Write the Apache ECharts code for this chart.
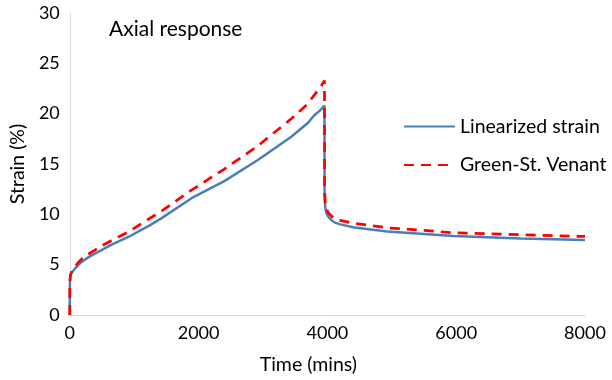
<!DOCTYPE html>
<html>
<head>
<meta charset="utf-8">
<script src="https://cdn.jsdelivr.net/npm/echarts@6/dist/echarts.min.js"></script>
<style>
  html, body { margin: 0; padding: 0; background: #fff; }
  #chart { width: 612px; height: 380px; }
</style>
</head>
<body>
<div id="chart"></div>
<script>
// Time (mins)
const timeMins = [0, 1, 5, 15, 40, 80, 130, 190, 280, 390, 520, 650, 910, 1240, 1420, 1890, 2400, 2920, 3440, 3700, 3790, 3900, 3955, 3956, 3965, 3980, 4010, 4060, 4110, 4200, 4420, 4930, 5500, 5960, 7000, 8000];
// Linearized strain (%)
const linearized = [0, 3.0, 3.6, 4.0, 4.3, 4.6, 4.95, 5.3, 5.7, 6.1, 6.55, 7.0, 7.75, 8.9, 9.6, 11.6, 13.3, 15.4, 17.7, 19.1, 19.8, 20.4, 20.8, 12.0, 10.8, 10.2, 9.8, 9.45, 9.2, 9.0, 8.7, 8.3, 8.05, 7.84, 7.6, 7.45];
// Green-St. Venant strain (%)
const greenStVenant = [0, 3.1, 3.7, 4.1, 4.45, 4.8, 5.2, 5.6, 6.0, 6.45, 6.95, 7.4, 8.25, 9.6, 10.3, 12.4, 14.5, 16.8, 19.5, 21.0, 21.8, 22.7, 23.3, 12.5, 11.3, 10.7, 10.2, 9.85, 9.6, 9.4, 9.1, 8.66, 8.4, 8.17, 7.97, 7.8];

const xTicks = [0, 2000, 4000, 6000, 8000];
const yTicks = [0, 5, 10, 15, 20, 25, 30];

const FONT = 'Lato';
const chart = echarts.init(document.getElementById('chart'), null, { renderer: 'canvas' });
const pairs = (ys) => timeMins.map((t, i) => [t, ys[i]]);

chart.setOption({
  animation: false,
  backgroundColor: '#ffffff',
  textStyle: { fontFamily: FONT },
  title: {
    text: 'Axial response',
    left: 104, top: 14,
    textStyle: { fontFamily: FONT, fontSize: 21, fontWeight: 'normal', color: '#000' }
  },
  legend: {
    orient: 'vertical',
    left: 398, top: 111.5,
    itemWidth: 51, itemHeight: 18, itemGap: 18.6,
    itemStyle: { opacity: 0 },
    textStyle: { fontFamily: FONT, fontSize: 19.5, color: '#000' },
    data: ['Linearized strain', 'Green-St. Venant']
  },
  grid: { left: 68, right: 27, top: 13, bottom: 61, containLabel: false },
  xAxis: {
    type: 'value',
    min: xTicks[0], max: xTicks[xTicks.length - 1], interval: 2000,
    name: 'Time (mins)', nameLocation: 'middle', nameGap: 40,
    nameTextStyle: { fontFamily: FONT, fontSize: 19.5, color: '#000', padding: [0, 38, 0, 0] },
    axisLine: { show: true, lineStyle: { color: '#d9d9d9', width: 1 } },
    axisTick: { show: false },
    splitLine: { show: false },
    axisLabel: { fontFamily: FONT, fontSize: 18, color: '#000', margin: 9, formatter: (v) => String(v) }
  },
  yAxis: {
    type: 'value',
    min: yTicks[0], max: yTicks[yTicks.length - 1], interval: 5,
    name: 'Strain (%)', nameLocation: 'middle', nameGap: 41, nameRotate: 90,
    nameTextStyle: { fontFamily: FONT, fontSize: 19.5, color: '#000' },
    axisLine: { show: true, lineStyle: { color: '#d9d9d9', width: 1 } },
    axisTick: { show: false },
    splitLine: { show: false },
    axisLabel: { fontFamily: FONT, fontSize: 18, color: '#000', margin: 10 }
  },
  series: [
    {
      name: 'Linearized strain', type: 'line', data: pairs(linearized),
      showSymbol: false, symbol: 'none',
      lineStyle: { color: '#4a7ebb', width: 2.5 },
      itemStyle: { color: '#4a7ebb' }, z: 2
    },
    {
      name: 'Green-St. Venant', type: 'line', data: pairs(greenStVenant),
      showSymbol: false, symbol: 'none',
      lineStyle: { color: '#ff0000', width: 2.75, type: [10, 7] },
      itemStyle: { color: '#ff0000' }, z: 3
    }
  ]
});
</script>
</body>
</html>
